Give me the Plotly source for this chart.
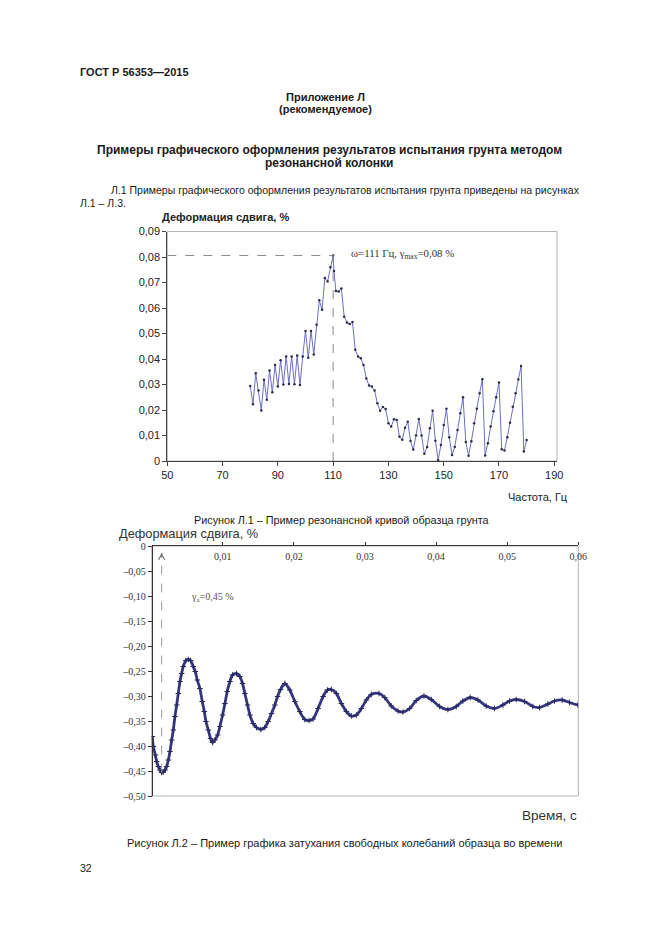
import plotly.graph_objects as go

# page size in pixels
W = 661
H = 936

# Рисунок Л.1 - resonance curve, frequency (Hz) vs shear strain (%)
freq_hz = [80, 81, 82, 83, 84, 85, 86, 87, 88, 89,
           90, 91, 92, 93, 94, 95, 96, 97, 98, 99,
           100, 101, 102, 103, 104, 105, 106, 107, 108, 109,
           110, 110.3, 111, 112, 113, 114, 115, 116, 117, 118, 119,
           120, 121, 122, 123, 124, 125, 126, 127, 128, 129,
           130, 131, 132, 133, 134, 135, 136, 137, 138, 139,
           140, 141, 142, 143, 144, 145, 146, 147, 148, 149,
           150, 151, 152, 153, 154, 155, 156, 157, 158, 159,
           160, 161, 162, 163, 164, 165, 166, 167, 168, 169,
           170, 171, 172, 173, 174, 175, 176, 177, 178, 179, 180]
shear_strain = [0.0294, 0.0223, 0.0344, 0.0276, 0.0198, 0.0319, 0.0240, 0.0355, 0.0270, 0.0376,
                0.0292, 0.0395, 0.0300, 0.0410, 0.0302, 0.0410, 0.0301, 0.0414, 0.0298, 0.0410,
                0.0510, 0.0405, 0.0510, 0.0418, 0.0534, 0.0630, 0.0593, 0.0718, 0.0704, 0.0760,
                0.0806, 0.0745, 0.0667, 0.0665, 0.0676, 0.0566, 0.0543, 0.0537, 0.0545, 0.0436, 0.0410,
                0.0403, 0.0376, 0.0324, 0.0296, 0.0292, 0.0276, 0.0226, 0.0197, 0.0212, 0.0204,
                0.0148, 0.0135, 0.0164, 0.0161, 0.0095, 0.0083, 0.0130, 0.0154, 0.0078, 0.0045,
                0.0100, 0.0165, 0.0100, 0.0028, 0.0055, 0.0128, 0.0197, 0.0079, 0.0003, 0.0063,
                0.0141, 0.0205, 0.0093, 0.0024, 0.0055, 0.0122, 0.0187, 0.0250, 0.0075, 0.0021,
                0.0077, 0.0148, 0.0205, 0.0266, 0.0321, 0.0022, 0.0070, 0.0135, 0.0195, 0.0250,
                0.0308, 0.0046, 0.0041, 0.0093, 0.0150, 0.0213, 0.0266, 0.0320, 0.0373, 0.0037, 0.0082]

freq_ticks = [50, 70, 90, 110, 130, 150, 170, 190]
strain_ticks = [0, 0.01, 0.02, 0.03, 0.04, 0.05, 0.06, 0.07, 0.08, 0.09]
strain_ticktext = ["0", "0,01", "0,02", "0,03", "0,04", "0,05", "0,06", "0,07", "0,08", "0,09"]

# Рисунок Л.2 - free vibration decay, time (s) vs shear strain (%)
time_s = [0.00009, 0.00023, 0.00051, 0.00070, 0.00093, 0.00117, 0.00140, 0.00163, 0.00187, 0.00210,
          0.00234, 0.00257, 0.00281, 0.00304, 0.00327, 0.00351, 0.00374, 0.00397, 0.00421, 0.00444,
          0.00481, 0.00514, 0.00547, 0.00584, 0.00613, 0.00641, 0.00678, 0.00711, 0.00740, 0.00763,
          0.00796, 0.00828, 0.00857, 0.00889, 0.00927, 0.00959, 0.00997, 0.01030, 0.01062, 0.01100,
          0.01137, 0.01193, 0.01240, 0.01278, 0.01310, 0.01348, 0.01381, 0.01427, 0.01474, 0.01535,
          0.01591, 0.01638, 0.01685, 0.01732, 0.01770, 0.01812, 0.01873, 0.01942, 0.02013, 0.02083,
          0.02153, 0.02214, 0.02270, 0.02340, 0.02411, 0.02471, 0.02528, 0.02598, 0.02668, 0.02738,
          0.02808, 0.02879, 0.02949, 0.03019, 0.03089, 0.03197, 0.03277, 0.03370, 0.03464, 0.03534,
          0.03628, 0.03721, 0.03829, 0.03932, 0.04049, 0.04166, 0.04283, 0.04377, 0.04480, 0.04588,
          0.04705, 0.04822, 0.04939, 0.05033, 0.05127, 0.05244, 0.05361, 0.05454, 0.05572, 0.05665,
          0.05773, 0.05876, 0.05993]
decay_strain = [-0.381, -0.401, -0.418, -0.431, -0.441, -0.448, -0.453, -0.452, -0.448, -0.441,
                -0.428, -0.411, -0.388, -0.368, -0.341, -0.318, -0.295, -0.271, -0.255, -0.241,
                -0.229, -0.227, -0.229, -0.241, -0.251, -0.268, -0.285, -0.311, -0.331, -0.351,
                -0.368, -0.385, -0.393, -0.388, -0.378, -0.361, -0.338, -0.315, -0.291, -0.271,
                -0.258, -0.255, -0.261, -0.275, -0.295, -0.318, -0.338, -0.355, -0.363, -0.367,
                -0.363, -0.351, -0.335, -0.318, -0.301, -0.287, -0.275, -0.288, -0.311, -0.331,
                -0.347, -0.349, -0.346, -0.325, -0.301, -0.288, -0.287, -0.295, -0.315, -0.331,
                -0.340, -0.338, -0.325, -0.308, -0.297, -0.295, -0.303, -0.320, -0.330, -0.332,
                -0.325, -0.309, -0.300, -0.307, -0.321, -0.327, -0.321, -0.310, -0.303, -0.308,
                -0.320, -0.325, -0.318, -0.310, -0.307, -0.311, -0.321, -0.323, -0.316, -0.310,
                -0.308, -0.313, -0.318]

time_ticks = [0.01, 0.02, 0.03, 0.04, 0.05, 0.06]
time_ticktext = ["0,01", "0,02", "0,03", "0,04", "0,05", "0,06"]
decay_ticks = [0, -0.05, -0.10, -0.15, -0.20, -0.25, -0.30, -0.35, -0.40, -0.45, -0.50]
decay_ticktext = ["0", "–0,05", "–0,10", "–0,15", "–0,20", "–0,25", "–0,30", "–0,35", "–0,40", "–0,45", "–0,50"]

SANS = "Liberation Sans, Arial, sans-serif"
SERIF = "Liberation Serif, Times New Roman, serif"


def px_x(x):
    return x / W


def px_y(y):
    return 1 - y / H


def page_text(text, x, y, anchor="left", size=10.5, bold=False, color="#1a1a1a", family=SANS):
    if bold:
        text = "<b>" + text + "</b>"
    return dict(text=text, x=px_x(x), y=px_y(y), xref="paper", yref="paper",
                xanchor=anchor, yanchor="middle", showarrow=False,
                font=dict(family=family, size=size, color=color))


def main():
    fig = go.Figure()

    # resonance curve
    fig.add_trace(go.Scatter(
        x=freq_hz, y=shear_strain, mode="lines+markers",
        line=dict(color="#6d6dc8", width=1),
        marker=dict(color="#2b2b48", size=2.5),
        xaxis="x", yaxis="y", showlegend=False,
    ))

    # decay curve
    fig.add_trace(go.Scatter(
        x=time_s, y=decay_strain, mode="lines+markers",
        line=dict(color="#36367e", width=2.8, shape="spline", smoothing=0.8),
        marker=dict(symbol="cross-thin", size=4, line=dict(color="#2a2a62", width=1)),
        xaxis="x2", yaxis="y2", showlegend=False,
    ))

    # peak of the resonance curve for the dashed guides
    i_peak = shear_strain.index(max(shear_strain))
    f_peak = freq_hz[i_peak]
    s_peak = shear_strain[i_peak]

    # start of the decay for the amplitude marker
    i_min = decay_strain.index(min(decay_strain))
    t_min = time_s[i_min]
    s_min = decay_strain[i_min]

    shapes = [
        # grey frames round the two plot areas
        dict(type="rect", xref="x domain", yref="y domain", x0=0, x1=1, y0=0, y1=1,
             line=dict(color="#b5b5b5", width=1), layer="below"),
        dict(type="rect", xref="x2 domain", yref="y2 domain", x0=0, x1=1, y0=0, y1=1,
             line=dict(color="#b5b5b5", width=1), layer="below"),
        # peak guides
        dict(type="line", xref="x", yref="y", x0=50, x1=f_peak, y0=s_peak, y1=s_peak,
             line=dict(color="#8a8a8a", width=1, dash="dash")),
        dict(type="line", xref="x", yref="y", x0=f_peak, x1=f_peak, y0=0, y1=s_peak,
             line=dict(color="#8a8a8a", width=1, dash="dash")),
        # amplitude guide
        dict(type="line", xref="x2", yref="y2", x0=t_min, x1=t_min, y0=s_min, y1=-0.014,
             line=dict(color="#9a9a9a", width=1, dash="dash")),
    ]

    annotations = [
        page_text("ГОСТ Р 56353—2015", 78, 72, bold=True, size=11),
        page_text("Приложение Л", 325, 97, anchor="center", bold=True, size=11),
        page_text("(рекомендуемое)", 325, 109, anchor="center", bold=True, size=11),
        page_text("Примеры графического оформления результатов испытания грунта методом",
                  329, 150, anchor="center", bold=True, size=12),
        page_text("резонансной колонки", 329, 163, anchor="center", bold=True, size=12),
        page_text("Л.1 Примеры графического оформления результатов испытания грунта приведены на рисунках",
                  109, 190, size=10.5),
        page_text("Л.1 – Л.3.", 78, 203, size=10.5),
        page_text("Деформация сдвига, %", 160, 217, bold=True, size=11, color="#222"),
        page_text("Частота, Гц", 570, 497, anchor="right", size=11, color="#222"),
        page_text("Рисунок Л.1 – Пример резонансной кривой образца грунта", 342, 520,
                  anchor="center", size=10.8),
        page_text("Деформация сдвига, %", 117, 533, size=12.8, color="#333"),
        page_text("Время, с", 579, 815, anchor="right", size=13.5, color="#333"),
        page_text("Рисунок Л.2 – Пример графика затухания свободных колебаний образца во времени",
                  344, 843, anchor="center", size=11),
        page_text("32", 78, 868, size=10.5),
        page_text("ω=111 Гц, γ<sub>max</sub>=0,08 %", 349, 254, size=10.8, color="#333", family=SERIF),
        page_text("γ<sub>a</sub>=0,45 %", 189, 597, size=10, color="#555", family=SERIF),
        # arrow head on the amplitude guide
        dict(x=t_min, y=-0.013, xref="x2", yref="y2", ax=0, ay=7, text="",
             showarrow=True, arrowhead=5, arrowsize=1.2, arrowwidth=1, arrowcolor="#777"),
    ]

    axis_common = dict(showgrid=False, zeroline=False, showline=True, ticks="outside",
                       automargin=False, fixedrange=True)

    fig.update_layout(
        width=W, height=H,
        margin=dict(l=0, r=0, t=0, b=0),
        paper_bgcolor="white", plot_bgcolor="white",
        separators=", ",
        xaxis=dict(axis_common, domain=[px_x(167.3), px_x(557)], range=[50, 191], anchor="y",
                   tickvals=freq_ticks, ticktext=[str(v) for v in freq_ticks],
                   linecolor="#444", tickcolor="#444", ticklen=4,
                   tickfont=dict(family=SANS, size=11, color="#222")),
        yaxis=dict(axis_common, domain=[px_y(461), px_y(231.5)], range=[0, 0.09], anchor="x",
                   tickvals=strain_ticks, ticktext=strain_ticktext,
                   linecolor="#444", tickcolor="#444", ticklen=4,
                   tickfont=dict(family=SANS, size=11, color="#222")),
        # time axis runs along the top (zero strain line), labels sit under it
        xaxis2=dict(axis_common, domain=[px_x(151.7), px_x(578.3)], range=[0, 0.06], anchor="y2",
                    side="top", ticklabelposition="inside", ticklabelstandoff=6,
                    ticklabeloverflow="allow",
                    tickvals=time_ticks, ticktext=time_ticktext,
                    linecolor="#333", tickcolor="#333", ticklen=3,
                    tickfont=dict(family=SERIF, size=10, color="#333")),
        # free anchor so the "0" label is not hidden by the inside time labels
        yaxis2=dict(axis_common, domain=[px_y(796), px_y(546)], range=[-0.5, 0],
                    anchor="free", position=px_x(151.7),
                    tickvals=decay_ticks, ticktext=decay_ticktext,
                    linecolor="#333", tickcolor="#333", ticklen=4,
                    tickfont=dict(family=SERIF, size=10, color="#333")),
        shapes=shapes,
        annotations=annotations,
    )

    # the page is exactly the window size, so drop the browser's default body margin
    fig.write_html("out.html", config={"displayModeBar": False},
                   post_script="document.body.style.margin = '0px';")


if __name__ == "__main__":
    main()
